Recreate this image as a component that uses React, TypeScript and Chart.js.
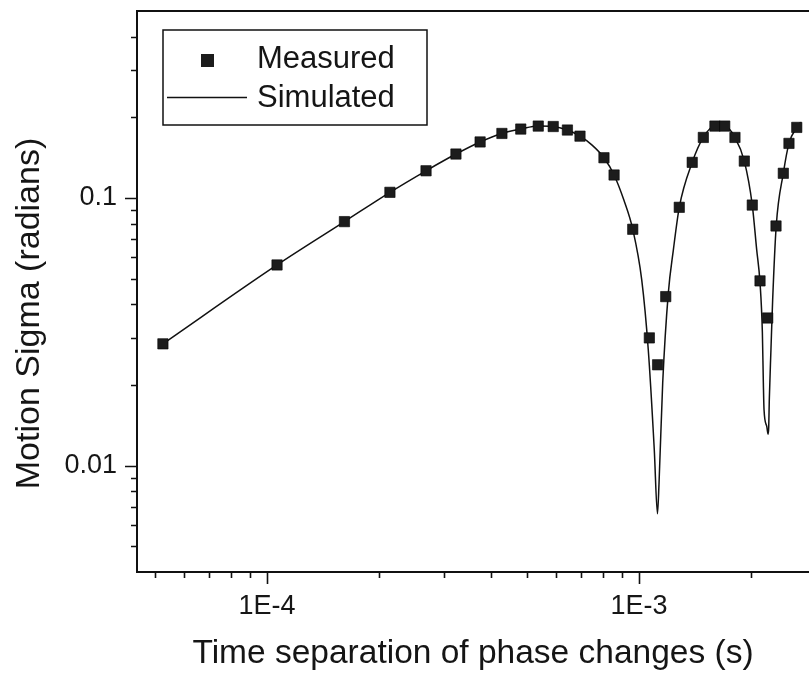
import React, { useEffect, useRef } from "react";
import { Chart, registerables } from "chart.js";

Chart.register(...registerables);

// ---------- data ----------
const measuredX = [
  5.25e-5, 1.064e-4, 1.615e-4, 2.14e-4, 2.676e-4, 3.22e-4, 3.74e-4, 4.28e-4,
  4.81e-4, 5.36e-4, 5.88e-4, 6.42e-4, 6.94e-4, 8.05e-4, 8.57e-4, 9.62e-4,
  1.066e-3, 1.122e-3, 1.18e-3, 1.283e-3, 1.39e-3, 1.489e-3, 1.6e-3, 1.7e-3,
  1.811e-3, 1.919e-3, 2.016e-3, 2.115e-3, 2.218e-3, 2.335e-3, 2.443e-3,
  2.53e-3, 2.655e-3,
];
const measuredY = [
  0.0285, 0.0562, 0.0816, 0.105, 0.1264, 0.146, 0.162, 0.1743,
  0.181, 0.1857, 0.185, 0.1795, 0.1703, 0.1414, 0.1219, 0.0764,
  0.03, 0.0238, 0.0428, 0.0923, 0.1359, 0.1684, 0.1857, 0.1857,
  0.1684, 0.1374, 0.0941, 0.049, 0.0356, 0.0786, 0.1237,
  0.16, 0.1836,
];

const simulatedX = [
  5.25e-5, 1.064e-4, 1.615e-4, 2.14e-4, 2.676e-4, 3.22e-4, 3.74e-4, 4.28e-4,
  4.81e-4, 5.36e-4, 5.88e-4, 6.42e-4, 6.94e-4, 7.48e-4, 8.05e-4, 8.57e-4,
  9.11e-4, 9.62e-4, 1.017e-3, 1.059e-3, 1.099e-3, 1.121e-3, 1.132e-3,
  1.158e-3, 1.199e-3, 1.237e-3, 1.283e-3, 1.39e-3, 1.489e-3, 1.6e-3, 1.7e-3,
  1.811e-3, 1.919e-3, 2.016e-3, 2.072e-3, 2.115e-3, 2.146e-3, 2.159e-3,
  2.168e-3, 2.205e-3, 2.223e-3, 2.232e-3, 2.24e-3, 2.263e-3, 2.287e-3,
  2.338e-3, 2.443e-3, 2.53e-3, 2.655e-3, 2.72e-3,
];
const simulatedY = [
  0.0285, 0.0562, 0.0816, 0.105, 0.1264, 0.146, 0.162, 0.1743,
  0.181, 0.1857, 0.185, 0.1795, 0.1703, 0.1577, 0.1414, 0.1219,
  0.098, 0.0764, 0.0494, 0.0271, 0.0115, 0.0066, 0.0086,
  0.0204, 0.0442, 0.064, 0.0923, 0.1359, 0.1684, 0.1857, 0.1857,
  0.1684, 0.1374, 0.0941, 0.064, 0.0482, 0.0314, 0.0204,
  0.0162, 0.014, 0.0131, 0.0139, 0.0176, 0.0271, 0.0416,
  0.0786, 0.1237, 0.16, 0.1836, 0.192,
];

const seriesLabels = ["Measured", "Simulated"];

const xTickValues = [1e-4, 1e-3];
const xTickLabels = ["1E-4", "1E-3"];
const yTickValues = [0.01, 0.1];
const yTickLabels = ["0.01", "0.1"];

const xMinorTicks = [
  5e-5, 6e-5, 7e-5, 8e-5, 9e-5,
  2e-4, 3e-4, 4e-4, 5e-4, 6e-4, 7e-4, 8e-4, 9e-4,
  2e-3,
];
const yMinorTicks = [
  0.005, 0.006, 0.007, 0.008, 0.009,
  0.02, 0.03, 0.04, 0.05, 0.06, 0.07, 0.08, 0.09,
  0.2, 0.3, 0.4,
];

const xRange = [4.472e-5, 2.864e-3];
const yRange = [0.004, 0.5];

const xTitle = "Time separation of phase changes (s)";
const yTitle = "Motion Sigma (radians)";

// ---------- chart ----------
const FONT = "'Liberation Sans', Arial, Helvetica, sans-serif";
const INK = "#111111";

export default function App() {
  const ref = useRef<HTMLCanvasElement>(null);

  useEffect(() => {
    const canvas = ref.current;
    if (!canvas) return;

    const measured = measuredX.map((x, i) => ({ x, y: measuredY[i] }));
    const simulated = simulatedX.map((x, i) => ({ x, y: simulatedY[i] }));

    const decor = {
      id: "decor",
      afterDraw(chart: any) {
        const { ctx, chartArea } = chart;
        const xs = chart.scales.x;
        const ys = chart.scales.y;
        ctx.save();
        ctx.strokeStyle = INK;
        ctx.lineCap = "butt";

        // tick marks (outward)
        ctx.lineWidth = 1.6;
        ctx.beginPath();
        for (const v of xTickValues) {
          const p = Math.round(xs.getPixelForValue(v)) + 0.5;
          ctx.moveTo(p, chartArea.bottom);
          ctx.lineTo(p, chartArea.bottom + 12);
        }
        for (const v of xMinorTicks) {
          const p = Math.round(xs.getPixelForValue(v)) + 0.5;
          ctx.moveTo(p, chartArea.bottom);
          ctx.lineTo(p, chartArea.bottom + 6);
        }
        for (const v of yTickValues) {
          const p = Math.round(ys.getPixelForValue(v)) + 0.5;
          ctx.moveTo(chartArea.left, p);
          ctx.lineTo(chartArea.left - 12, p);
        }
        for (const v of yMinorTicks) {
          const p = Math.round(ys.getPixelForValue(v)) + 0.5;
          ctx.moveTo(chartArea.left, p);
          ctx.lineTo(chartArea.left - 6, p);
        }
        ctx.stroke();

        // top frame line
        ctx.lineWidth = 2;
        ctx.beginPath();
        ctx.moveTo(chartArea.left - 1, chartArea.top);
        ctx.lineTo(chartArea.right, chartArea.top);
        ctx.stroke();

        // legend box
        const bx = chartArea.left + 26;
        const by = chartArea.top + 19;
        const bw = 264;
        const bh = 95;
        ctx.fillStyle = "#ffffff";
        ctx.fillRect(bx, by, bw, bh);
        ctx.lineWidth = 1.5;
        ctx.strokeRect(bx, by, bw, bh);

        const ds = chart.data.datasets;
        ctx.font = `31px ${FONT}`;
        ctx.textAlign = "left";
        ctx.textBaseline = "alphabetic";
        // Measured marker
        ctx.fillStyle = ds[0].backgroundColor;
        ctx.fillRect(bx + 38, by + 24, 13, 13);
        ctx.fillStyle = "#151515";
        ctx.fillText(ds[0].label, bx + 94, by + 38);
        // Simulated line
        ctx.strokeStyle = ds[1].borderColor;
        ctx.lineWidth = ds[1].borderWidth;
        ctx.beginPath();
        ctx.moveTo(bx + 4, by + 67.5);
        ctx.lineTo(bx + 84, by + 67.5);
        ctx.stroke();
        ctx.fillText(ds[1].label, bx + 94, by + 77);

        // y axis title
        ctx.translate(29.5, 313.5);
        ctx.rotate(-Math.PI / 2);
        ctx.font = `34px ${FONT}`;
        ctx.textAlign = "center";
        ctx.textBaseline = "middle";
        ctx.fillText(yTitle, 0, 0);
        ctx.restore();
      },
    };

    const zeroPad = (scale: any) => {
      scale.paddingTop = 0;
      scale.paddingBottom = 0;
      scale.paddingLeft = 0;
      scale.paddingRight = 0;
    };

    const chart = new Chart(canvas, {
      type: "scatter",
      data: {
        datasets: [
          {
            label: seriesLabels[0],
            data: measured,
            showLine: false,
            pointStyle: "rect",
            pointRadius: 7.3,
            pointHoverRadius: 7.3,
            backgroundColor: "#1c1c1c",
            borderColor: "#000000",
            borderWidth: 0.6,
            order: 0,
          },
          {
            label: seriesLabels[1],
            data: simulated,
            showLine: true,
            pointRadius: 0,
            pointHoverRadius: 0,
            borderColor: INK,
            backgroundColor: INK,
            borderWidth: 1.5,
            cubicInterpolationMode: "monotone",
            fill: false,
            order: 1,
          },
        ],
      },
      options: {
        responsive: false,
        animation: false,
        events: [],
        layout: {
          autoPadding: false,
          padding: { top: 11, right: 0, left: 0, bottom: 0 },
        },
        plugins: {
          legend: { display: false },
          tooltip: { enabled: false },
          title: { display: false },
        },
        scales: {
          x: {
            type: "logarithmic",
            position: "bottom",
            min: xRange[0],
            max: xRange[1],
            grid: { display: false, drawTicks: false },
            border: { display: true, color: INK, width: 2 },
            afterBuildTicks: (scale: any) => {
              scale.ticks = xTickValues.map((v) => ({ value: v }));
            },
            afterFit: (scale: any) => {
              scale.height = 103;
              zeroPad(scale);
            },
            ticks: {
              autoSkip: false,
              maxRotation: 0,
              padding: 18,
              color: "#161616",
              font: { family: FONT, size: 27 },
              callback: (v: any) => {
                const i = xTickValues.findIndex((t) => Math.abs(t - v) / t < 1e-6);
                return i >= 0 ? xTickLabels[i] : "";
              },
            },
            title: {
              display: true,
              text: xTitle,
              color: "#151515",
              font: { family: FONT, size: 33.5 },
              padding: { top: 0, bottom: 1 },
            },
          },
          y: {
            type: "logarithmic",
            position: "left",
            min: yRange[0],
            max: yRange[1],
            grid: { display: false, drawTicks: false },
            border: { display: true, color: INK, width: 2 },
            afterBuildTicks: (scale: any) => {
              scale.ticks = yTickValues.map((v) => ({ value: v }));
            },
            afterFit: (scale: any) => {
              scale.width = 137;
              zeroPad(scale);
            },
            ticks: {
              autoSkip: false,
              padding: 20,
              color: "#161616",
              font: { family: FONT, size: 27 },
              callback: (v: any) => {
                const i = yTickValues.findIndex((t) => Math.abs(t - v) / t < 1e-6);
                return i >= 0 ? yTickLabels[i] : "";
              },
            },
            title: { display: false },
          },
        },
      },
      plugins: [decor],
    });

    return () => chart.destroy();
  }, []);

  return (
    <div
      style={{
        position: "fixed",
        left: 0,
        top: 0,
        width: 809,
        height: 675,
        background: "#ffffff",
      }}
    >
      <canvas ref={ref} width={809} height={675} style={{ display: "block" }} />
    </div>
  );
}
